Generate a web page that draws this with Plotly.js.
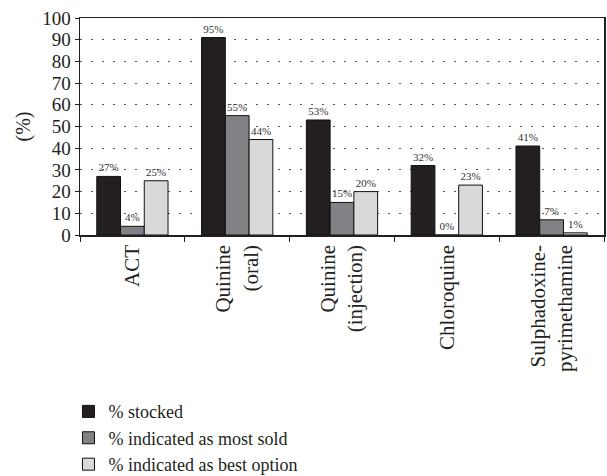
<!DOCTYPE html>
<html>
<head>
<meta charset="utf-8">
<script src="https://cdn.plot.ly/plotly-3.0.1.min.js"></script>
<style>html,body{margin:0;padding:0;background:#fff;}#chart{width:607px;height:476px;}</style>
</head>
<body>
<div id="chart"></div>
<script>
const categories = ["ACT", "Quinine<br>(oral)", "Quinine<br>(injection)", "Chloroquine", "Sulphadoxine-<br>pyrimethamine"];
const seriesNames = ["% stocked", "% indicated as most sold", "% indicated as best option"];
const stocked = [27, 91, 53, 32, 41];
const mostSold = [4, 55, 15, 0, 7];
const bestOption = [25, 44, 20, 23, 1];
const stockedLabels = ["27%", "95%", "53%", "32%", "41%"];
const mostSoldLabels = ["4%", "55%", "15%", "0%", "7%"];
const bestOptionLabels = ["25%", "44%", "20%", "23%", "1%"];
const yTicks = [0, 10, 20, 30, 40, 50, 60, 70, 80, 90, 100];

const colors = ["#231f20", "#818285", "#d8d9da"];
const serif = "Liberation Serif, Times New Roman, serif";

function mk(name, y, text, color) {
  return {
    type: "bar", name: name, x: categories, y: y, text: text,
    textposition: "outside", cliponaxis: false,
    outsidetextfont: {family: serif, size: 11, color: "#333"},
    constraintext: "none",
    marker: {color: color, line: {color: "#111", width: 1}},
    hoverinfo: "skip"
  };
}
const data = [
  mk(seriesNames[0], stocked, stockedLabels, colors[0]),
  mk(seriesNames[1], mostSold, mostSoldLabels, colors[1]),
  mk(seriesNames[2], bestOption, bestOptionLabels, colors[2])
];
const layout = {
  width: 607, height: 476,
  margin: {l: 80, r: 3, t: 18, b: 241},
  paper_bgcolor: "#fff", plot_bgcolor: "#fff",
  barmode: "group", bargap: 0.32, bargroupgap: 0,
  font: {family: serif, color: "#231f20"},
  showlegend: true,
  legend: {
    xref: "paper", yref: "container",
    x: -0.022, xanchor: "left", y: 0.174, yanchor: "top",
    font: {family: serif, size: 18, color: "#231f20"},
    tracegroupgap: 0, itemwidth: 30
  },
  xaxis: {
    type: "category", automargin: false,
    tickangle: -90,
    tickfont: {family: serif, size: 21, color: "#231f20"},
    showline: true, linecolor: "#231f20", linewidth: 1.5,
    mirror: true,
    ticks: "outside", ticklen: 5, tickcolor: "#231f20",
    tickson: "boundaries",
    showgrid: false, zeroline: false
  },
  yaxis: {
    range: [0, 100], automargin: false,
    tickvals: yTicks,
    tickfont: {family: serif, size: 19, color: "#231f20"},
    showline: true, linecolor: "#231f20", linewidth: 1.5,
    mirror: true,
    ticks: "outside", ticklen: 4, tickcolor: "#231f20",
    showgrid: true, gridcolor: "#555", griddash: "2px,9px", gridwidth: 1,
    zeroline: false,
    title: {text: "(%)", font: {family: serif, size: 20, color: "#231f20"}, standoff: 6}
  }
};
Plotly.newPlot("chart", data, layout, {displayModeBar: false, staticPlot: true});
</script>
</body>
</html>
